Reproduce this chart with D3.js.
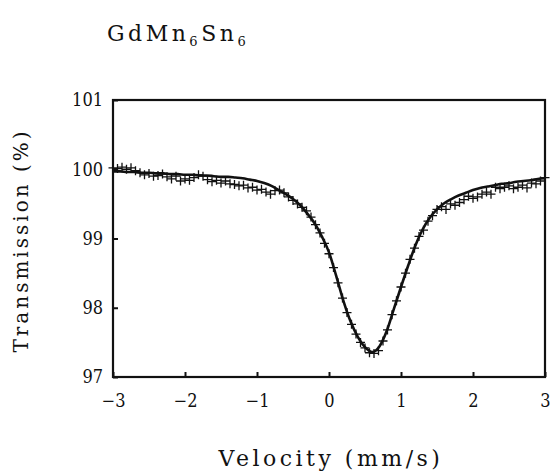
<!DOCTYPE html>
<html>
<head>
<meta charset="utf-8">
<script src="https://cdn.jsdelivr.net/npm/d3@7"></script>
<style>
  body { margin: 0; background: #fff; }
  svg { display: block; }
  text { fill: #111; }
</style>
</head>
<body>
<svg id="chart" width="551" height="473"></svg>
<script>
// measured spectrum (velocity in mm/s, transmission in %)
const velocity = [
  -3, -2.9375, -2.875, -2.8125, -2.75, -2.6875, -2.625, -2.5625, -2.5, -2.4375,
  -2.375, -2.3125, -2.25, -2.1875, -2.125, -2.0625, -2, -1.9375, -1.875, -1.8125,
  -1.75, -1.6875, -1.625, -1.5625, -1.5, -1.4375, -1.375, -1.3125, -1.25, -1.1875,
  -1.125, -1.0625, -1, -0.9375, -0.875, -0.8125, -0.75, -0.6875, -0.625, -0.5625,
  -0.5, -0.4375, -0.375, -0.3125, -0.25, -0.1875, -0.125, -0.0625, 0, 0.0625,
  0.125, 0.1875, 0.25, 0.3125, 0.375, 0.4375, 0.5, 0.5625, 0.625, 0.6875,
  0.75, 0.8125, 0.875, 0.9375, 1, 1.0625, 1.125, 1.1875, 1.25, 1.3125,
  1.375, 1.4375, 1.5, 1.5625, 1.625, 1.6875, 1.75, 1.8125, 1.875, 1.9375,
  2, 2.0625, 2.125, 2.1875, 2.25, 2.3125, 2.375, 2.4375, 2.5, 2.5625,
  2.625, 2.6875, 2.75, 2.8125, 2.875, 2.9375, 3
];
const transmission = [
  100.02, 100.01, 100.03, 100.00, 100.02, 99.98, 99.95, 99.92, 99.94, 99.90,
  99.91, 99.93, 99.89, 99.86, 99.90, 99.83, 99.86, 99.84, 99.88, 99.92,
  99.90, 99.85, 99.82, 99.84, 99.80, 99.83, 99.79, 99.78, 99.76, 99.77,
  99.73, 99.74, 99.70, 99.71, 99.67, 99.64, 99.69, 99.70, 99.66, 99.60,
  99.55, 99.50, 99.45, 99.40, 99.31, 99.20, 99.08, 98.93, 98.78, 98.58,
  98.36, 98.14, 97.93, 97.76, 97.62, 97.50, 97.42, 97.35, 97.34, 97.38,
  97.52, 97.68, 97.90, 98.10, 98.30, 98.50, 98.70, 98.86, 99.03, 99.12,
  99.25, 99.33, 99.42, 99.46, 99.42, 99.50, 99.48, 99.52, 99.56, 99.61,
  99.58, 99.60, 99.64, 99.67, 99.64, 99.74, 99.72, 99.74, 99.76, 99.72,
  99.74, 99.77, 99.73, 99.80, 99.79, 99.83, 99.88
];

// fitted curve
const fitVelocity = [
  -3, -2.9, -2.8, -2.7, -2.6, -2.5, -2.4, -2.3, -2.2, -2.1,
  -2, -1.9, -1.8, -1.7, -1.6, -1.5, -1.4, -1.3, -1.2, -1.1,
  -1, -0.9, -0.8, -0.7, -0.6, -0.5, -0.4, -0.3, -0.2, -0.1,
  0, 0.1, 0.2, 0.3, 0.4, 0.5, 0.6, 0.7, 0.8, 0.9,
  1, 1.1, 1.2, 1.3, 1.4, 1.5, 1.6, 1.7, 1.8, 1.9,
  2, 2.1, 2.2, 2.3, 2.4, 2.5, 2.6, 2.7, 2.8, 2.9, 3
];
const fitTransmission = [
  99.97, 99.97, 99.96, 99.96, 99.95, 99.95, 99.94, 99.94, 99.93, 99.93,
  99.92, 99.92, 99.91, 99.91, 99.90, 99.89, 99.89, 99.88, 99.87, 99.85,
  99.83, 99.80, 99.76, 99.70, 99.64, 99.57, 99.48, 99.36, 99.22, 99.03,
  98.80, 98.46, 98.10, 97.80, 97.58, 97.43, 97.36, 97.44, 97.66, 97.98,
  98.30, 98.61, 98.90, 99.13, 99.30, 99.42, 99.51, 99.57, 99.62, 99.66,
  99.70, 99.73, 99.75, 99.77, 99.79, 99.80, 99.82, 99.83, 99.84, 99.86, 99.87
];

const xTicks = [-3, -2, -1, 0, 1, 2, 3];
const yTicks = [97, 98, 99, 100, 101];

const serif = "DejaVu Serif";
const margin = { top: 100, right: 6, bottom: 96, left: 113 };
const width = 551 - margin.left - margin.right;
const height = 473 - margin.top - margin.bottom;

const svg = d3.select("#chart");
const g = svg.append("g").attr("transform", `translate(${margin.left},${margin.top})`);

const x = d3.scaleLinear().domain([-3, 3]).range([0, width]);
const y = d3.scaleLinear().domain([97, 101]).range([height, 0]);

// fit line
const line = d3.line()
  .x((d, i) => x(fitVelocity[i]))
  .y(d => y(d))
  .curve(d3.curveMonotoneX);

g.append("path")
  .datum(fitTransmission)
  .attr("d", line)
  .attr("fill", "none")
  .attr("stroke", "#111")
  .attr("stroke-width", 2.6);

// data crosses
const cs = 4.5;
g.selectAll(".pt")
  .data(transmission)
  .join("path")
    .attr("class", "pt")
    .attr("d", (d, i) => {
      const px = x(velocity[i]), py = y(d);
      return `M${px - cs},${py}H${px + cs}M${px},${py - cs}V${py + cs}`;
    })
    .attr("stroke", "#111")
    .attr("stroke-width", 1.3)
    .attr("fill", "none");

// axes: inward ticks
const xAxis = g.append("g")
  .attr("transform", `translate(0,${height})`)
  .call(d3.axisBottom(x).tickValues(xTicks).tickSize(-5).tickPadding(17)
    .tickFormat(d => d < 0 ? "\u2212" + Math.abs(d) : String(d)));
const yAxis = g.append("g")
  .call(d3.axisLeft(y).tickValues(yTicks).tickSize(-5).tickPadding(10)
    .tickFormat(d3.format("d")));

[xAxis, yAxis].forEach(a => {
  a.attr("font-family", "DejaVu Serif Condensed, DejaVu Serif").attr("font-size", 18);
  a.select(".domain").remove();
  a.selectAll("line").attr("stroke", "#111").attr("stroke-width", 2);
  a.selectAll("text").attr("fill", "#111");
});
xAxis.selectAll("text").attr("dy", "0.71em");

// frame
g.append("rect")
  .attr("width", width).attr("height", height)
  .attr("fill", "none")
  .attr("stroke", "#111")
  .attr("stroke-width", 2.2);

// title
const title = svg.append("text")
  .attr("x", 107).attr("y", 41)
  .attr("font-family", serif)
  .attr("font-size", 22)
  .style("letter-spacing", "3.5px");
title.append("tspan").text("GdMn");
title.append("tspan").text("6").attr("dy", 5).attr("font-size", 13);
title.append("tspan").text("Sn").attr("dy", -5);
title.append("tspan").text("6").attr("dy", 5).attr("font-size", 13);

// axis labels
svg.append("text")
  .attr("x", margin.left + width / 2 + 2).attr("y", 466)
  .attr("text-anchor", "middle")
  .attr("font-family", serif)
  .attr("font-size", 22)
  .style("letter-spacing", "3.5px")
  .text("Velocity (mm/s)");

svg.append("text")
  .attr("transform", `translate(28,${margin.top + height / 2 + 2}) rotate(-90)`)
  .attr("text-anchor", "middle")
  .attr("font-family", serif)
  .attr("font-size", 20)
  .style("letter-spacing", "3px")
  .text("Transmission (%)");
</script>
</body>
</html>
